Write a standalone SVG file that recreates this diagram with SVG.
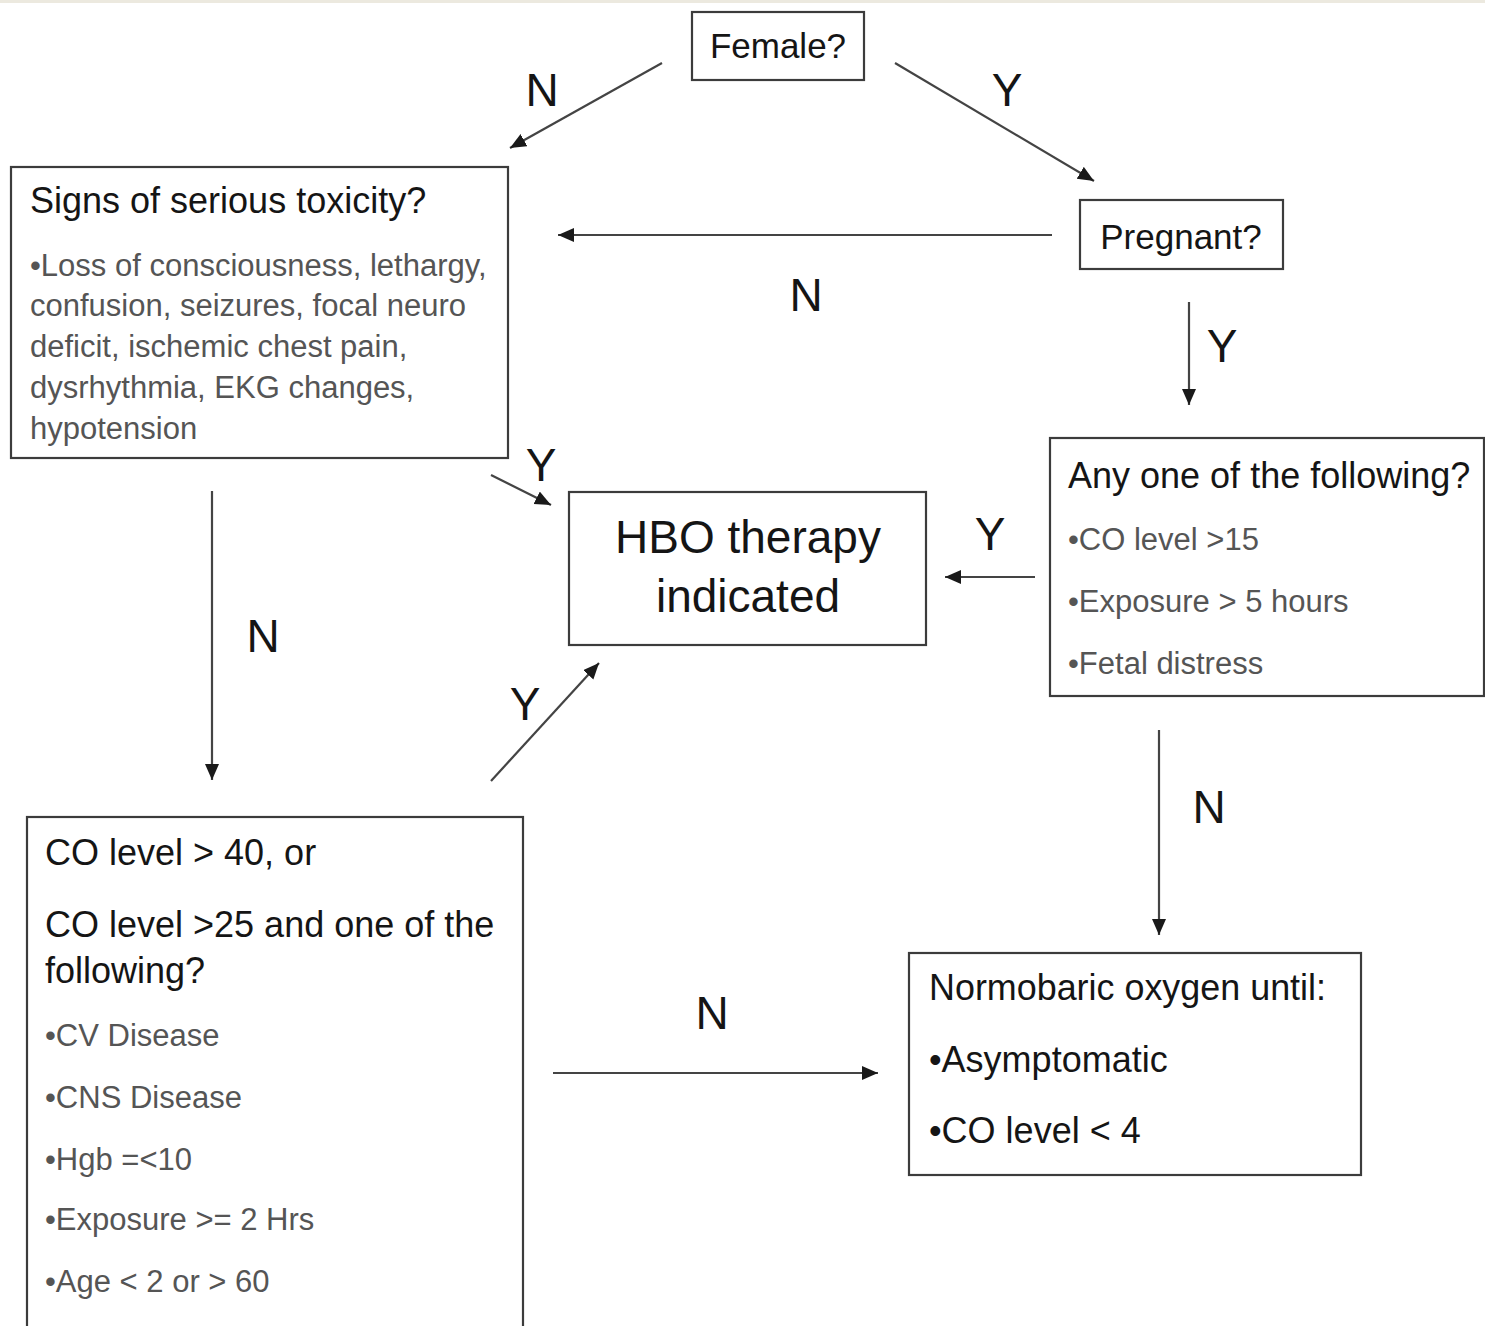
<svg xmlns="http://www.w3.org/2000/svg" width="1485" height="1326" viewBox="0 0 1485 1326">
<style>
  text { font-family: "Liberation Sans", Arial, sans-serif; }
  .box { fill: #ffffff; stroke: #3c3c3c; stroke-width: 2.2; }
  .head { font-size: 36px; fill: #151515; }
  .q { font-size: 35px; fill: #151515; }
  .bul { font-size: 31px; fill: #555555; }
  .bulk { font-size: 36px; fill: #151515; }
  .big { font-size: 46px; fill: #151515; text-anchor: middle; }
  .lbl { font-size: 46px; fill: #151515; text-anchor: middle; }
  .conn { stroke: #444444; stroke-width: 2.2; fill: none; marker-end: url(#ah); }
</style>
<defs>
  <marker id="ah" markerUnits="userSpaceOnUse" markerWidth="18" markerHeight="16" refX="16" refY="7" orient="auto">
    <path d="M0,0 L16,7 L0,14 Z" fill="#1a1a1a"/>
  </marker>
</defs>
<rect x="0" y="0" width="1485" height="1326" fill="#ffffff"/>
<rect x="0" y="0" width="1485" height="3" fill="#ece9df"/>

<g id="connectors">
  <line class="conn" x1="662" y1="63" x2="510" y2="148"/>
  <line class="conn" x1="895" y1="63" x2="1094" y2="181"/>
  <line class="conn" x1="1052" y1="235" x2="558" y2="235"/>
  <line class="conn" x1="1189" y1="302" x2="1189" y2="405"/>
  <line class="conn" x1="491" y1="475" x2="551" y2="505"/>
  <line class="conn" x1="1035" y1="577" x2="945" y2="577"/>
  <line class="conn" x1="212" y1="491" x2="212" y2="780"/>
  <line class="conn" x1="491" y1="781" x2="599" y2="663"/>
  <line class="conn" x1="1159" y1="730" x2="1159" y2="935"/>
  <line class="conn" x1="553" y1="1073" x2="878" y2="1073"/>
  <text class="lbl" x="542" y="106">N</text>
  <text class="lbl" x="1007" y="106">Y</text>
  <text class="lbl" x="806" y="311">N</text>
  <text class="lbl" x="1222" y="362">Y</text>
  <text class="lbl" x="541" y="481">Y</text>
  <text class="lbl" x="990" y="550">Y</text>
  <text class="lbl" x="263" y="652">N</text>
  <text class="lbl" x="525" y="720">Y</text>
  <text class="lbl" x="1209" y="823">N</text>
  <text class="lbl" x="712" y="1029">N</text>
</g>

<g id="female">
  <rect class="box" x="692" y="12" width="172" height="68"/>
  <text class="q" x="778" y="58" text-anchor="middle">Female?</text>
</g>

<g id="signs">
  <rect class="box" x="11" y="167" width="497" height="291"/>
  <text class="head" x="30" y="213">Signs of serious toxicity?</text>
  <text class="bul" x="30" y="276">•Loss of consciousness, lethargy,</text>
  <text class="bul" x="30" y="316">confusion, seizures, focal neuro</text>
  <text class="bul" x="30" y="357">deficit, ischemic chest pain,</text>
  <text class="bul" x="30" y="398">dysrhythmia, EKG changes,</text>
  <text class="bul" x="30" y="439">hypotension</text>
</g>

<g id="pregnant">
  <rect class="box" x="1080" y="200" width="203" height="69"/>
  <text class="q" x="1181" y="249" text-anchor="middle">Pregnant?</text>
</g>

<g id="anyone">
  <rect class="box" x="1050" y="438" width="434" height="258"/>
  <text class="head" x="1068" y="488">Any one of the following?</text>
  <text class="bul" x="1068" y="550">•CO level &gt;15</text>
  <text class="bul" x="1068" y="612">•Exposure &gt; 5 hours</text>
  <text class="bul" x="1068" y="674">•Fetal distress</text>
</g>

<g id="hbo">
  <rect class="box" x="569" y="492" width="357" height="153"/>
  <text class="big" x="748" y="553">HBO therapy</text>
  <text class="big" x="748" y="612">indicated</text>
</g>

<g id="colevel">
  <rect class="box" x="27" y="817" width="496" height="520"/>
  <text class="head" x="45" y="865">CO level &gt; 40, or</text>
  <text class="head" x="45" y="937">CO level &gt;25 and one of the</text>
  <text class="head" x="45" y="983">following?</text>
  <text class="bul" x="45" y="1046">•CV Disease</text>
  <text class="bul" x="45" y="1108">•CNS Disease</text>
  <text class="bul" x="45" y="1170">•Hgb =&lt;10</text>
  <text class="bul" x="45" y="1230">•Exposure &gt;= 2 Hrs</text>
  <text class="bul" x="45" y="1292">•Age &lt; 2 or &gt; 60</text>
</g>

<g id="normobaric">
  <rect class="box" x="909" y="953" width="452" height="222"/>
  <text class="head" x="929" y="1000" textLength="397" lengthAdjust="spacingAndGlyphs">Normobaric oxygen until:</text>
  <text class="bulk" x="929" y="1072">•Asymptomatic</text>
  <text class="bulk" x="929" y="1143">•CO level &lt; 4</text>
</g>
</svg>
